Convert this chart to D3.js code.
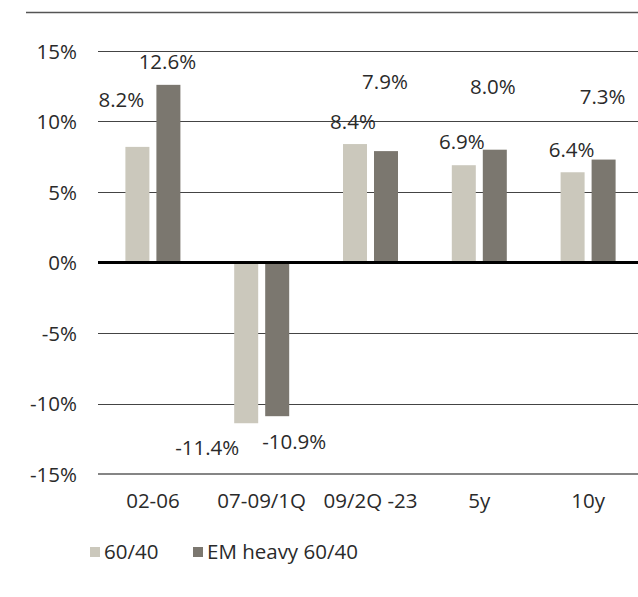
<!DOCTYPE html>
<html>
<head>
<meta charset="utf-8">
<script src="https://cdn.jsdelivr.net/npm/d3@7"></script>
<style>
  html, body { margin: 0; padding: 0; background: #fff; }
  svg { display: block; }
  text { font-family: "Open Sans", "Noto Sans", sans-serif; fill: #2a2a2a; }
</style>
</head>
<body>
<svg id="chart" width="638" height="597"></svg>
<script>
// Periods on the x axis
const categories = ["02-06", "07-09/1Q", "09/2Q -23", "5y", "10y"];
// Annualised returns (%) per portfolio
const seriesNames = ["60/40", "EM heavy 60/40"];
const base6040 = [8.2, -11.4, 8.4, 6.9, 6.4];
const emHeavy6040 = [12.6, -10.9, 7.9, 8.0, 7.3];
const yTicks = [-15, -10, -5, 0, 5, 10, 15];

// Label nudges (dx, dy) relative to each bar's centre and end
const nudgeBase = [[-16, -47], [-39, 25], [-2, -22], [-2, -23], [-1, -22]];
const nudgeEm = [[-1, -23], [17, 26], [-1, -69], [-2, -63], [-1, -63]];

const colors = ["#cbc8bc", "#7b776f"];
const series = [
  { name: seriesNames[0], values: base6040, nudge: nudgeBase, color: colors[0] },
  { name: seriesNames[1], values: emHeavy6040, nudge: nudgeEm, color: colors[1] }
];

const svg = d3.select("#chart");
const fontSize = 20.5;

const y = d3.scaleLinear().domain([-15, 15]).range([474, 51]);
const x = d3.scaleBand().domain(categories).range([98.5, 642.5]);
const barW = 24, gap = 7;
const sub = d3.scaleOrdinal().domain([0, 1]).range([-gap / 2 - barW, gap / 2]);

// Top rule
svg.append("line")
  .attr("x1", 26).attr("x2", 638).attr("y1", 12.5).attr("y2", 12.5)
  .attr("stroke", "#555").attr("stroke-width", 1.3);

// Gridlines
svg.append("g").selectAll("line")
  .data(yTicks.filter(d => d !== 0 && d !== -15))
  .join("line")
  .attr("x1", 98).attr("x2", 638)
  .attr("y1", d => Math.round(y(d)) + 0.5).attr("y2", d => Math.round(y(d)) + 0.5)
  .attr("stroke", "#444").attr("stroke-width", 1);

// Bottom axis line
svg.append("line")
  .attr("x1", 98).attr("x2", 638).attr("y1", y(-15)).attr("y2", y(-15))
  .attr("stroke", "#858585").attr("stroke-width", 2);

// Y axis labels
const yAxis = d3.axisLeft(y).tickValues(yTicks).tickFormat(d => d + "%").tickSize(0).tickPadding(0);
const gy = svg.append("g").attr("transform", "translate(77,0)").call(yAxis);
gy.select(".domain").remove();
gy.selectAll("text").attr("font-size", fontSize).attr("font-family", null).attr("fill", "#2a2a2a").attr("dy", "0.35em");

// X axis labels
const xAxis = d3.axisBottom(x).tickSize(0).tickPadding(0);
const gx = svg.append("g").attr("transform", "translate(0,501)").call(xAxis);
gx.select(".domain").remove();
gx.selectAll("text").attr("font-size", fontSize).attr("font-family", null).attr("fill", "#2a2a2a").attr("dy", "0.35em");

// Bars
series.forEach((s, si) => {
  const g = svg.append("g");
  g.selectAll("rect")
    .data(s.values.map((v, i) => ({ v, c: categories[i], i })))
    .join("rect")
    .attr("x", d => x(d.c) + x.bandwidth() / 2 + sub(si))
    .attr("width", barW)
    .attr("y", d => Math.min(y(d.v), y(0)))
    .attr("height", d => Math.abs(y(d.v) - y(0)))
    .attr("fill", s.color);
});

// Zero line
svg.append("line")
  .attr("x1", 98).attr("x2", 638).attr("y1", y(0)).attr("y2", y(0))
  .attr("stroke", "#000").attr("stroke-width", 3);

// Value labels
series.forEach((s, si) => {
  svg.append("g").selectAll("text")
    .data(s.values.map((v, i) => ({ v, c: categories[i], i })))
    .join("text")
    .attr("x", d => x(d.c) + x.bandwidth() / 2 + sub(si) + barW / 2 + s.nudge[d.i][0])
    .attr("y", d => y(d.v) + s.nudge[d.i][1])
    .attr("dy", "0.35em")
    .attr("text-anchor", "middle")
    .attr("font-size", fontSize)
    .text(d => d.v.toFixed(1) + "%");
});

// Legend
const legend = svg.append("g").attr("transform", "translate(90,552)");
const items = legend.selectAll("g").data(series).join("g")
  .attr("transform", (d, i) => `translate(${i === 0 ? 0 : 103},0)`);
items.append("rect").attr("x", 0).attr("y", -5).attr("width", 10).attr("height", 10).attr("fill", d => d.color);
items.append("text").attr("x", 14).attr("dy", "0.35em").attr("font-size", fontSize).text(d => d.name);
</script>
</body>
</html>
